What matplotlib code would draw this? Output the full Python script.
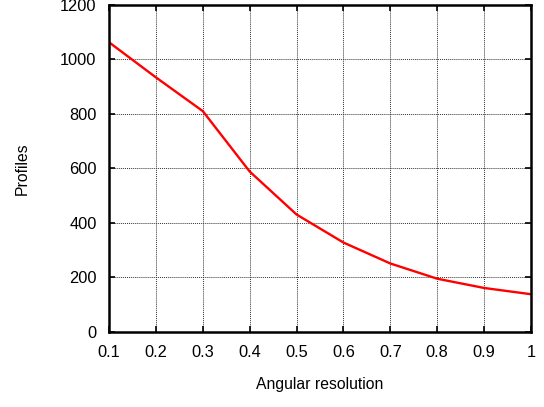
import matplotlib
matplotlib.use("Agg")
import matplotlib.pyplot as plt

resolution = [0.1, 0.2, 0.3, 0.4, 0.5, 0.6, 0.7, 0.8, 0.9, 1.0]
profiles = [1063, 934, 810, 588, 430, 327, 250, 194, 160, 137]
xticks = [0.1, 0.2, 0.3, 0.4, 0.5, 0.6, 0.7, 0.8, 0.9, 1.0]
xtick_labels = ["0.1", "0.2", "0.3", "0.4", "0.5", "0.6", "0.7", "0.8", "0.9", "1"]
yticks = [0, 200, 400, 600, 800, 1000, 1200]

plt.rcParams['font.family'] = ['Liberation Sans', 'DejaVu Sans']

fig = plt.figure(figsize=(5.44, 4.07), dpi=100)
ax = fig.add_axes([0.2004, 0.1855, 0.7757, 0.8022])
ax.plot(resolution, profiles, color='#ff0000', lw=1.7)
ax.set_xlim(0.1, 1.0)
ax.set_ylim(0, 1200)
ax.set_xticks(xticks)
ax.set_xticklabels(xtick_labels)
ax.set_yticks(yticks)
ax.grid(True, color='#333333', linestyle=(0, (1, 1)), lw=0.7)
for s in ax.spines.values():
    s.set_linewidth(1.8)
ax.tick_params(direction='in', length=4, width=1.2, top=True, right=True,
               labelsize=11.8)
ax.tick_params(axis='x', pad=10)
ax.tick_params(axis='y', pad=9)
ax.set_xlabel("Angular resolution", fontsize=11.3, labelpad=12)
ax.set_ylabel("Profiles", fontsize=11.3, labelpad=22)
fig.savefig("out.png", dpi=100)
